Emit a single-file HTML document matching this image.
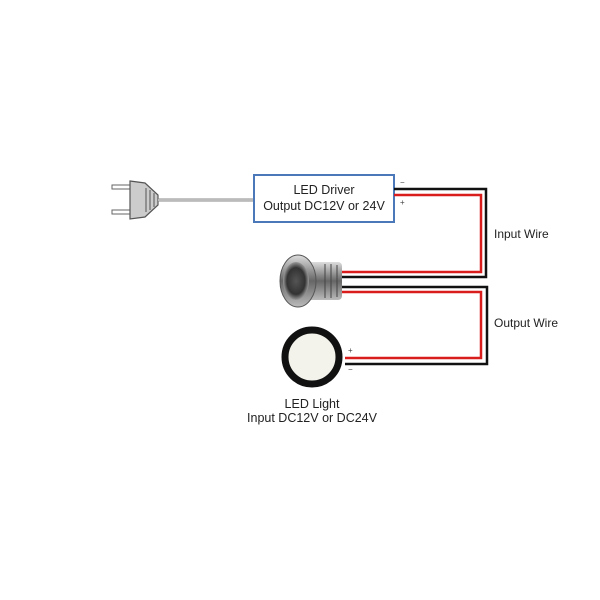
<!DOCTYPE html>
<html><head><style>
body{margin:0;background:#fff;}
svg{display:block;font-family:"Liberation Sans",Arial,sans-serif;}
</style></head><body>
<svg width="600" height="600" viewBox="0 0 600 600">
<defs>
<radialGradient id="sw" cx="0.5" cy="0.5" r="0.5">
<stop offset="0" stop-color="#555"/><stop offset="0.7" stop-color="#333"/><stop offset="1" stop-color="#999"/>
</radialGradient>
<linearGradient id="met" x1="0" y1="0" x2="0" y2="1">
<stop offset="0" stop-color="#ddd"/><stop offset="0.5" stop-color="#666"/><stop offset="1" stop-color="#bbb"/>
</linearGradient>
</defs>
<!-- plug -->
<rect x="112" y="185" width="18" height="4" fill="#fff" stroke="#666" stroke-width="1"/>
<rect x="112" y="210" width="18" height="4" fill="#fff" stroke="#666" stroke-width="1"/>
<path d="M130 181 L145 183 L158 195 L158 205 L145 217 L130 219 Z" fill="#ccc" stroke="#555" stroke-width="1.2"/>
<line x1="146" y1="188" x2="146" y2="212" stroke="#555"/>
<line x1="150" y1="190" x2="150" y2="210" stroke="#555"/>
<line x1="154" y1="193" x2="154" y2="207" stroke="#555"/>
<line x1="158" y1="200" x2="253" y2="200" stroke="#888" stroke-width="3"/>
<line x1="158" y1="200" x2="253" y2="200" stroke="#eee" stroke-width="1"/>
<!-- driver -->
<rect x="254" y="175" width="140" height="47" fill="#fff" stroke="#4a78b8" stroke-width="2"/>
<text x="324" y="194" font-size="12.5" text-anchor="middle" fill="#222">LED Driver</text>
<text x="324" y="210" font-size="12.5" text-anchor="middle" fill="#222">Output DC12V or 24V</text>
<text x="400" y="185" font-size="8" fill="#444">−</text>
<text x="400" y="205" font-size="8" fill="#444">+</text>
<!-- input wires -->
<path d="M394 189 H486 V277 H340" fill="none" stroke="#111" stroke-width="2.5"/>
<path d="M394 195 H481 V272 H340" fill="none" stroke="#d91c1c" stroke-width="2.5"/>
<!-- output wires -->
<path d="M340 287 H487 V364 H345" fill="none" stroke="#111" stroke-width="2.5"/>
<path d="M340 292 H481 V358 H345" fill="none" stroke="#d91c1c" stroke-width="2.5"/>
<text x="494" y="238" font-size="12" fill="#222">Input Wire</text>
<text x="494" y="327" font-size="12" fill="#222">Output Wire</text>
<!-- switch -->
<rect x="300" y="262" width="42" height="38" rx="4" fill="url(#met)"/>
<g stroke="#444" stroke-width="1"><line x1="325" y1="264" x2="325" y2="298"/><line x1="331" y1="264" x2="331" y2="298"/><line x1="337" y1="265" x2="337" y2="297"/></g>
<ellipse cx="298" cy="281" rx="18" ry="26" fill="url(#met)" stroke="#555"/>
<ellipse cx="296" cy="281" rx="13" ry="19" fill="url(#sw)"/>
<!-- light -->
<circle cx="312" cy="357" r="27" fill="#f3f3ec" stroke="#111" stroke-width="7"/>
<text x="348" y="353" font-size="8" fill="#444">+</text>
<text x="348" y="372" font-size="8" fill="#444">−</text>
<text x="312" y="408" font-size="12.5" text-anchor="middle" fill="#222">LED Light</text>
<text x="312" y="422" font-size="12.5" text-anchor="middle" fill="#222">Input DC12V or DC24V</text>
</svg>
</body></html>
